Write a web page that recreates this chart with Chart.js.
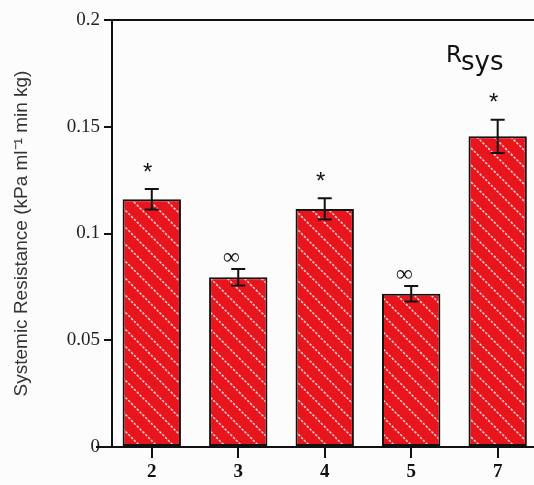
<!DOCTYPE html>
<html>
<head>
<meta charset="utf-8">
<script src="https://cdn.jsdelivr.net/npm/chart.js@4"></script>
<style>
  html, body { margin: 0; padding: 0; background: #fcfcfc; }
  #wrap { width: 534px; height: 485px; }
</style>
</head>
<body>
<div id="wrap"><canvas id="chart"></canvas></div>
<script>
const categories = ["2", "3", "4", "5", "7"];
const resistance = [0.116, 0.0795, 0.1115, 0.0718, 0.1455];
const sem = [0.0048, 0.0039, 0.005, 0.0036, 0.0078];
const markers = ["*", "∞", "*", "∞", "*"];
const yTicks = [0, 0.05, 0.1, 0.15, 0.2];

// diagonal white hatch on red
function hatch() {
  const n = 17;
  const c = document.createElement('canvas');
  c.width = n; c.height = n;
  const g = c.getContext('2d');
  g.fillStyle = '#e8161c';
  g.fillRect(0, 0, n, n);
  g.strokeStyle = 'rgba(255,235,235,0.9)';
  g.lineWidth = 1.5;
  g.setLineDash([2.5, 1.5]);
  g.beginPath();
  g.moveTo(-2, -2); g.lineTo(n + 2, n + 2);
  g.stroke();
  return g.createPattern(c, 'repeat');
}

const extras = {
  id: 'extras',
  afterDraw(chart) {
    const ctx = chart.ctx;
    const x = chart.scales.x, y = chart.scales.y;
    ctx.save();
    ctx.setLineDash([]);
    ctx.strokeStyle = '#111';
    ctx.fillStyle = '#111';
    ctx.lineWidth = 2;
    // x tick marks under each bar + axis stub left of the y axis
    const base = y.getPixelForValue(0);
    categories.forEach((c, i) => {
      const px = Math.round(x.getPixelForValue(i));
      ctx.fillRect(px - 1, base, 2, 11);
    });
    ctx.fillRect(x.left - 16, base - 1, 16, 2);
    resistance.forEach((v, i) => {
      const px = x.getPixelForValue(i);
      const top = y.getPixelForValue(v + sem[i]);
      const bot = y.getPixelForValue(v - sem[i]);
      ctx.beginPath();
      ctx.moveTo(px, top); ctx.lineTo(px, bot);
      ctx.moveTo(px - 7, top); ctx.lineTo(px + 7, top);
      ctx.moveTo(px - 7, bot); ctx.lineTo(px + 7, bot);
      ctx.stroke();
      ctx.textAlign = 'center';
      ctx.textBaseline = 'middle';
      if (markers[i] === '*') {
        ctx.font = '24px "Liberation Sans"';
        ctx.fillText('*', px - 4, top - 16);
      } else {
        ctx.font = 'bold 23px "Liberation Serif"';
        ctx.fillText('∞', px - 7, top - 11);
      }
    });
    // panel label
    ctx.textAlign = 'left';
    ctx.textBaseline = 'alphabetic';
    ctx.font = '23px "DejaVu Sans"';
    ctx.fillText('R', 446, 62);
    ctx.font = '26px "DejaVu Sans"';
    ctx.fillText('sys', 461, 70);
    ctx.restore();
  }
};

new Chart(document.getElementById('chart'), {
  type: 'bar',
  data: {
    datasets: [{
      data: resistance.map((v, i) => ({ x: i, y: v })),
      backgroundColor: hatch(),
      borderColor: '#111',
      borderWidth: 2,
      borderSkipped: false,
      categoryPercentage: 1,
      barPercentage: 0.675
    }]
  },
  plugins: [extras],
  options: {
    responsive: true,
    maintainAspectRatio: false,
    animation: false,
    layout: { padding: { top: 20, right: 0, left: 0, bottom: 0 } },
    plugins: {
      legend: { display: false },
      tooltip: { enabled: false }
    },
    scales: {
      x: {
        type: 'linear',
        offset: false,
        min: -0.46,
        max: 4.42,
        afterBuildTicks: (s) => { s.ticks = categories.map((c, i) => ({ value: i })); },
        afterFit: (s) => { s.height = 38; },
        border: { color: '#111', width: 2 },
        grid: { display: false },
        ticks: {
          padding: 6,
          color: '#111',
          font: { family: 'Liberation Serif', size: 19, weight: 'bold' },
          callback: (v) => categories[v]
        }
      },
      y: {
        min: 0,
        max: 0.2,
        afterBuildTicks: (s) => { s.ticks = yTicks.map(v => ({ value: v })); },
        afterFit: (s) => { s.width = 112; },
        border: { color: '#111', width: 2 },
        grid: {
          tickLength: 8,
          tickColor: '#111',
          lineWidth: 2,
          color: (c) => (c.tick && c.tick.value === 0.2 ? '#111' : 'rgba(0,0,0,0)')
        },
        ticks: {
          padding: 4,
          color: '#222',
          font: { family: 'Liberation Serif', size: 19 },
          callback: (v) => String(v)
        },
        title: {
          display: true,
          text: 'Systemic Resistance (kPa ml⁻¹ min kg)',
          color: '#333',
          font: { family: 'Liberation Sans', size: 19 },
          padding: { top: 10, bottom: 0 }
        }
      }
    }
  }
});
</script>
</body>
</html>
